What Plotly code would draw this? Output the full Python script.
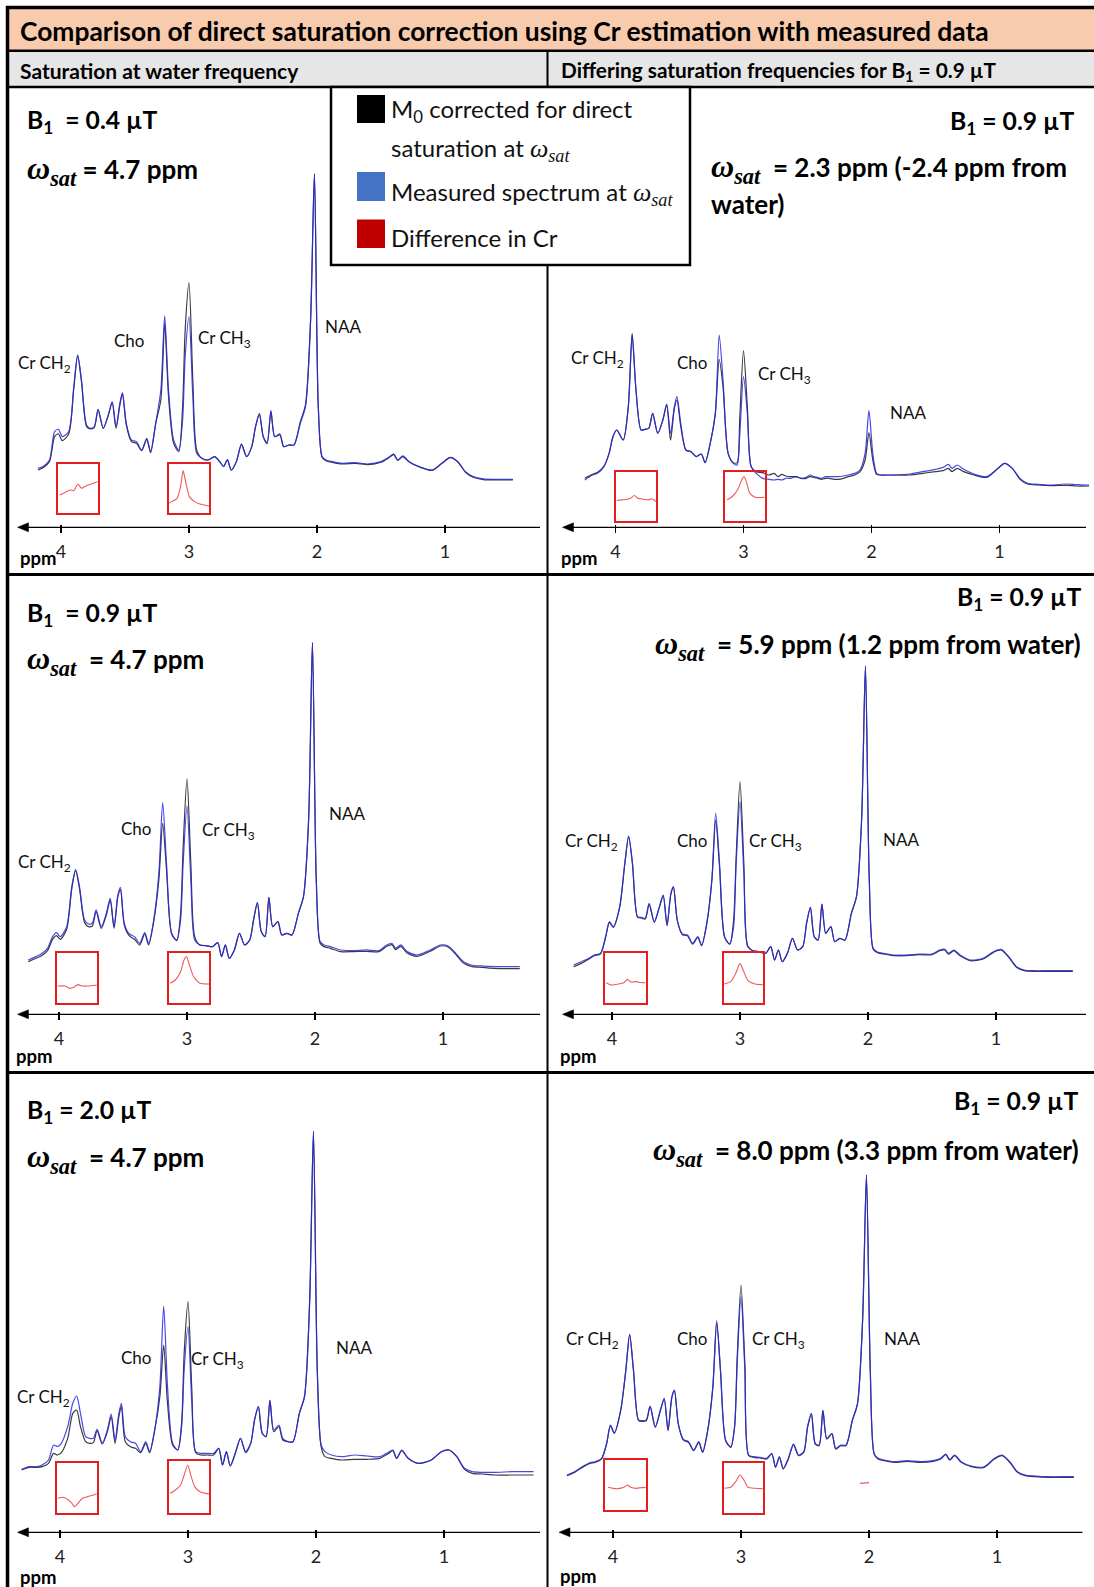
import plotly.graph_objects as go

W, H = 1094, 1587
N = None

# ---------------- DATA ----------------
PPM = [
    4.36, 4.30, 4.24, 4.18, 4.14, 4.09, 4.05, 4.02, 3.99, 3.94,
    3.90, 3.87, 3.84, 3.80, 3.77, 3.74, 3.71, 3.67, 3.63, 3.60,
    3.57, 3.54, 3.52, 3.49, 3.45, 3.41, 3.37, 3.33, 3.30, 3.26,
    3.22, 3.19, 3.16, 3.12, 3.08, 3.05, 3.03, 3.00, 2.97, 2.94,
    2.90, 2.85, 2.80, 2.76, 2.73, 2.70, 2.67, 2.63, 2.59, 2.55,
    2.51, 2.48, 2.45, 2.42, 2.39, 2.36, 2.33, 2.29, 2.26, 2.22,
    2.18, 2.13, 2.09, 2.05, 2.02, 1.99, 1.96, 1.93, 1.88, 1.80,
    1.70, 1.60, 1.50, 1.44, 1.40, 1.37, 1.33, 1.28, 1.20, 1.10,
    1.02, 0.96, 0.90, 0.84, 0.78, 0.70, 0.60, 0.47, 0.40, 0.30,
]

TICK_VALS = [4, 3, 2, 1]
TICK_TEXT = ["4", "3", "2", "1"]

# B1 = 0.4 uT, wsat = 4.7 ppm
TL_BLUE = [
    N, N, N, 33, 38, 58, 143, 150, 128, 143,
    278, 373, 298, 163, 153, 158, 208, 153, 193, 233,
    158, 228, 260, 168, 118, 113, 88, 123, 83, 168,
    268, 490, 268, 118, 88, 178, 368, 488, 248, 78,
    63, 58, 68, 53, 38, 58, 28, 53, 103, 68,
    98, 158, 193, 128, 108, 206, 128, 136, 98, 103,
    103, 168, 218, 478, 916, 218, 68, 58, 53, 48,
    50, 46, 53, 66, 76, 58, 70, 53, 38, 28,
    50, 66, 53, 23, 8, 1, 0, 0, N, N,
]
TL_BLACK = [
    N, N, N, 28, 35, 53, 128, 136, 116, 136,
    273, 370, 293, 158, 151, 156, 210, 153, 193, 230,
    153, 223, 256, 163, 113, 108, 86, 120, 80, 168,
    238, 468, 248, 108, 83, 218, 448, 590, 298, 88,
    63, 58, 68, 53, 39, 58, 28, 53, 106, 68,
    98, 158, 198, 128, 108, 203, 128, 133, 98, 103,
    103, 173, 223, 478, 916, 218, 66, 56, 51, 46,
    48, 44, 51, 64, 74, 57, 68, 52, 37, 27,
    49, 65, 52, 21, 6, -1, -2, -2, N, N,
]
# B1 = 0.9 uT, wsat = 2.3 ppm
TR_BLUE = [
    N, N, 15, 30, 35, 55, 95, 145, 165, 135,
    235, 450, 285, 165, 167, 170, 215, 155, 195, 243,
    155, 235, 265, 185, 105, 100, 85, 93, 67, 125,
    215, 450, 315, 95, 65, 60, 145, 325, 215, 55,
    35, 20, 17, 15, 17, 15, 20, 20, 25, 20,
    23, 30, 25, 23, 20, 25, 25, 25, 25, 27,
    30, 35, 45, 95, 223, 95, 35, 30, 30, 30,
    33, 40, 47, 53, 62, 50, 60, 47, 33, 25,
    47, 65, 50, 20, 5, 2, 0, 3, 1, 0,
]
TR_BLACK = [
    N, N, 20, 32, 38, 57, 95, 145, 165, 135,
    235, 455, 285, 165, 167, 170, 215, 155, 195, 240,
    135, 230, 255, 175, 105, 100, 85, 93, 67, 125,
    215, 377, 295, 95, 67, 67, 195, 403, 235, 55,
    40, 37, 30, 35, 25, 32, 27, 25, 25, 20,
    20, 25, 23, 20, 17, 20, 20, 17, 17, 20,
    25, 30, 40, 75, 157, 75, 32, 30, 30, 30,
    30, 35, 40, 43, 50, 40, 50, 40, 30, 23,
    47, 65, 50, 17, 3, 0, -2, -1, -3, -3,
]
# B1 = 0.9 uT, wsat = 4.7 ppm
ML_BLUE = [
    N, N, 22, 32, 40, 57, 92, 104, 92, 122,
    242, 294, 242, 142, 130, 132, 172, 122, 162, 207,
    122, 217, 240, 132, 100, 92, 72, 104, 72, 142,
    282, 494, 312, 102, 82, 142, 312, 484, 262, 82,
    67, 65, 62, 74, 32, 67, 27, 52, 102, 67,
    82, 142, 194, 107, 92, 210, 122, 137, 97, 102,
    97, 162, 212, 442, 974, 262, 77, 67, 62, 52,
    50, 52, 50, 67, 72, 57, 67, 47, 37, 52,
    67, 64, 42, 17, 7, 4, 2, 2, 2, N,
]
ML_BLACK = [
    N, N, 17, 27, 34, 50, 84, 95, 84, 114,
    237, 290, 237, 134, 122, 124, 167, 117, 157, 202,
    117, 212, 234, 127, 94, 84, 67, 100, 67, 137,
    262, 432, 292, 100, 80, 162, 362, 565, 312, 92,
    67, 65, 62, 74, 32, 67, 27, 52, 102, 67,
    82, 142, 194, 107, 92, 210, 122, 137, 97, 102,
    97, 162, 212, 442, 974, 262, 72, 62, 57, 47,
    47, 48, 47, 63, 68, 53, 63, 43, 33, 48,
    64, 61, 39, 13, 3, 0, -3, -4, -4, N,
]
# B1 = 0.9 uT, wsat = 5.9 ppm
MR_BLUE = [
    N, 17, 27, 37, 47, 52, 102, 147, 132, 192,
    322, 404, 322, 162, 160, 157, 202, 147, 192, 227,
    137, 232, 252, 152, 110, 107, 82, 102, 77, 142,
    272, 472, 322, 102, 80, 132, 322, 507, 292, 72,
    60, 57, 52, 72, 32, 62, 27, 52, 97, 62,
    72, 142, 190, 102, 92, 200, 112, 132, 87, 97,
    92, 172, 222, 452, 914, 272, 67, 57, 52, 47,
    47, 50, 50, 62, 64, 52, 62, 47, 32, 37,
    57, 64, 42, 12, 2, 0, 0, 0, 0, N,
]
MR_BLACK = [
    N, 12, 22, 35, 45, 50, 100, 145, 130, 190,
    320, 402, 320, 160, 158, 155, 200, 145, 190, 225,
    135, 230, 250, 150, 108, 105, 80, 100, 75, 140,
    270, 452, 312, 100, 80, 152, 342, 567, 322, 75,
    60, 57, 52, 72, 32, 62, 27, 52, 97, 62,
    72, 142, 190, 102, 92, 200, 112, 132, 87, 97,
    92, 172, 222, 452, 914, 272, 65, 55, 50, 45,
    45, 48, 48, 60, 62, 50, 60, 45, 30, 35,
    55, 62, 40, 10, 0, -2, -2, -2, -2, N,
]
# B1 = 2.0 uT, wsat = 4.7 ppm
BL_BLUE = [
    N, 17, 25, 25, 30, 45, 90, 85, 95, 145,
    215, 237, 185, 115, 110, 110, 137, 95, 135, 183,
    105, 185, 215, 115, 100, 95, 70, 100, 70, 135,
    265, 507, 265, 95, 75, 145, 315, 445, 215, 70,
    65, 65, 65, 80, 30, 70, 27, 67, 110, 70,
    95, 165, 205, 125, 115, 225, 135, 150, 110, 100,
    100, 185, 235, 515, 1031, 315, 90, 70, 60, 55,
    60, 57, 55, 67, 75, 50, 75, 50, 35, 45,
    70, 75, 55, 20, 10, 8, 8, 10, 10, 10,
]
BL_BLACK = [
    N, 15, 23, 23, 25, 35, 65, 60, 67, 110,
    185, 195, 145, 100, 95, 97, 133, 93, 130, 175,
    95, 175, 205, 100, 85, 80, 67, 95, 67, 135,
    235, 390, 215, 90, 75, 155, 365, 520, 255, 67,
    60, 60, 60, 80, 30, 70, 27, 65, 110, 67,
    95, 165, 205, 125, 115, 223, 130, 145, 105, 100,
    100, 185, 235, 515, 1031, 315, 85, 55, 50, 45,
    47, 47, 50, 63, 73, 50, 73, 50, 35, 45,
    70, 75, 55, 17, 5, 3, 0, 0, 0, 0,
]
# B1 = 0.9 uT, wsat = 8.0 ppm
BR_BLUE = [
    5, 15, 30, 42, 45, 55, 100, 155, 132, 200,
    320, 428, 320, 170, 168, 170, 212, 150, 200, 235,
    140, 240, 260, 160, 112, 105, 80, 105, 75, 140,
    270, 468, 320, 110, 90, 150, 340, 540, 320, 65,
    60, 58, 55, 70, 30, 60, 25, 55, 98, 65,
    75, 150, 190, 100, 95, 200, 115, 130, 85, 95,
    95, 170, 220, 470, 905, 320, 70, 55, 50, 45,
    48, 45, 48, 55, 68, 52, 65, 45, 32, 30,
    55, 65, 45, 15, 5, 2, 0, 0, 0, N,
]
BR_BLACK = [
    3, 13, 28, 40, 43, 53, 98, 153, 130, 198,
    318, 426, 318, 168, 166, 168, 210, 148, 198, 233,
    138, 238, 258, 158, 110, 103, 78, 103, 73, 138,
    268, 462, 315, 108, 88, 150, 355, 575, 340, 63,
    58, 56, 53, 68, 28, 58, 23, 53, 96, 63,
    73, 148, 188, 98, 93, 198, 113, 128, 83, 93,
    93, 168, 218, 468, 905, 318, 68, 53, 48, 43,
    46, 43, 46, 53, 66, 50, 63, 43, 30, 28,
    53, 63, 43, 13, 3, 0, -2, -2, -2, N,
]
BR_STRAY_X = [2.07, 2.00]
BR_STRAY_Y = [-20, -18]

# difference in Cr (insets): ppm and difference values
TL1_X = [4.011, 3.97, 3.928, 3.90, 3.868, 3.84, 3.805, 3.764, 3.715]
TL1_Y = [-19, -12, -4, -6, 14, 1, 8, 14, 21]
TL2_X = [3.156, 3.134, 3.093, 3.066, 3.046, 3.024, 2.997, 2.956, 2.915, 2.844]
TL2_Y = [-44, -39, -29, 6, 54, 16, -24, -39, -46, -52]
TR1_X = [3.990, 3.949, 3.908, 3.881, 3.853, 3.826, 3.785, 3.744, 3.716, 3.684]
TR1_Y = [-12, -10, -8, -5, 3, -5, -8, -10, -7, -15]
TR2_X = [3.128, 3.087, 3.046, 3.013, 2.997, 2.978, 2.951, 2.909, 2.869, 2.836]
TR2_Y = [-10, 0, 20, 50, 60, 45, 10, -2, -3, -2]
ML1_X = [4.009, 3.954, 3.913, 3.885, 3.852, 3.817, 3.776, 3.705]
ML1_Y = [-24, -24, -31, -28, -20, -24, -24, -21]
ML2_X = [3.132, 3.091, 3.05, 3.023, 3.003, 2.981, 2.948, 2.899, 2.825]
ML2_Y = [-16, -6, 19, 54, 64, 39, 4, -16, -18]
MR1_X = [4.045, 4.004, 3.949, 3.908, 3.880, 3.853, 3.812, 3.771, 3.738]
MR1_Y = [-14, -21, -18, -14, -4, -12, -11, -14, -14]
MR2_X = [3.123, 3.073, 3.033, 3.0, 2.970, 2.937, 2.882, 2.822]
MR2_Y = [-18, -11, 14, 44, 19, -8, -18, -20]
BL1_X = [4.017, 3.976, 3.934, 3.907, 3.888, 3.860, 3.825, 3.784, 3.7125]
BL1_Y = [-30, -27, -35, -45, -55, -45, -30, -25, -17]
BL2_X = [3.14, 3.098, 3.058, 3.03, 3.002, 2.975, 2.948, 2.907, 2.833]
BL2_Y = [-19, -9, 6, 36, 66, 31, 1, -14, -21]
BR1_X = [4.039, 3.998, 3.957, 3.916, 3.888, 3.861, 3.820, 3.779, 3.744]
BR1_Y = [-7, -10, -11, -7, 0, -7, -10, -8, -7]
BR2_X = [3.130, 3.081, 3.041, 3.008, 2.977, 2.945, 2.890, 2.830]
BR2_Y = [0, 3, 20, 40, 25, 3, 0, -1]

PEAK_NAMES = ["Cr CH<sub>2</sub>", "Cho", "Cr CH<sub>3</sub>", "NAA"]

TITLE = "Comparison of direct saturation correction using Cr estimation with measured data"
SUB_LEFT = "Saturation at water frequency"
SUB_RIGHT = "Differing saturation frequencies for B<sub>1</sub> = 0.9 µT"

# ---------------- STYLE / LAYOUT ----------------
FONT = "Lato, 'Open Sans', sans-serif"
OMEGA = ("<span style='font-family:Liberation Serif;font-size:32px'><i>ω</i>"
         "<sub><i>sat</i></sub></span>")
OMEGA_LEG = ("<span style='font-family:Liberation Serif;font-size:26px'><i>ω</i>"
             "<sub><i>sat</i></sub></span>")
BLUE_LINE = "rgba(40,40,225,0.85)"
BLACK_LINE = "#3c3c3c"
RED_BOX = "#E41E1E"
RED_LINE = "#EE5A5A"
PX_PER_PPM = 128.0
UPP = 3.0  # intensity units per pixel
NB = "\u00a0"
SMOOTH = 0.75


def X(px):
    return px / W


def Y(py):
    return 1 - py / H


PANELS = [
    dict(blue=TL_BLUE, black=TL_BLACK, x0=12, x1=542, top=90, line=527.3, px3=189.0, base=479.3,
         arrow=(17.5, 540), ppm_at=(18, 558),
         b1="B<sub>1</sub>" + NB + " = 0.4 µT", b1pos=(25, 122, "left"),
         w=[(OMEGA + " = 4.7 ppm", 25, 170, "left")],
         peaks=[(44.5, 364), (129, 340), (224, 339), (343, 326)]),
    dict(blue=TR_BLUE, black=TR_BLACK, x0=552, x1=1093, top=90, line=527.3, px3=743.5, base=485.0,
         arrow=(562.5, 1086), ppm_at=(559, 558),
         b1="B<sub>1</sub> = 0.9 µT", b1pos=(1076, 123, "right"),
         w=[(OMEGA + NB + " = 2.3 ppm (-2.4 ppm from", 709, 169, "left"),
            ("water)", 709, 204, "left")],
         peaks=[(597.8, 359), (692, 362), (784, 375), (907.5, 413)]),
    dict(blue=ML_BLUE, black=ML_BLACK, x0=12, x1=542, top=578, line=1014.3, px3=187.0, base=967.3,
         arrow=(17.5, 540), ppm_at=(14, 1056),
         b1="B<sub>1</sub>" + NB + " = 0.9 µT", b1pos=(25, 614, "left"),
         w=[(OMEGA + NB + " = 4.7 ppm", 25, 660, "left")],
         peaks=[(44.7, 863), (136, 828.3), (228, 831), (347, 813.3)]),
    dict(blue=MR_BLUE, black=MR_BLACK, x0=552, x1=1093, top=578, line=1014.3, px3=740.0, base=970.7,
         arrow=(562.5, 1086), ppm_at=(558, 1056),
         b1="B<sub>1</sub> = 0.9 µT", b1pos=(1083, 598, "right"),
         w=[(OMEGA + NB + " = 5.9 ppm (1.2 ppm from water)", 1083, 645, "right")],
         peaks=[(591.4, 842), (692, 840.7), (775.7, 842), (900.5, 840)]),
    dict(blue=BL_BLUE, black=BL_BLACK, x0=12, x1=542, top=1076, line=1532.3, px3=188.0, base=1475.0,
         arrow=(17.5, 540), ppm_at=(18, 1577),
         b1="B<sub>1</sub> = 2.0 µT", b1pos=(25, 1111, "left"),
         w=[(OMEGA + NB + " = 4.7 ppm", 25, 1158, "left")],
         peaks=[(43.8, 1398), (136, 1357.3), (217, 1360), (354, 1347.7)]),
    dict(blue=BR_BLUE, black=BR_BLACK, x0=552, x1=1093, top=1076, line=1532.3, px3=741.0, base=1476.7,
         arrow=(559, 1082.5), ppm_at=(558, 1576),
         b1="B<sub>1</sub> = 0.9 µT", b1pos=(1080, 1102, "right"),
         w=[(OMEGA + NB + " = 8.0 ppm (3.3 ppm from water)", 1081, 1151, "right")],
         peaks=[(592.8, 1340), (692, 1338.3), (778.4, 1340), (901.8, 1338.3)]),
]

INSETS = [
    dict(panel=0, box=(57.9, 98.2, 464, 513.3), x=TL1_X, y=TL1_Y),
    dict(panel=0, box=(169.1, 209.1, 464, 513.3), x=TL2_X, y=TL2_Y),
    dict(panel=1, box=(616.1, 656, 472, 521), x=TR1_X, y=TR1_Y),
    dict(panel=1, box=(724.6, 764.5, 472, 521), x=TR2_X, y=TR2_Y),
    dict(panel=2, box=(56.8, 96.8, 953.3, 1002.7), x=ML1_X, y=ML1_Y),
    dict(panel=2, box=(169.4, 209.4, 953.3, 1002.7), x=ML2_X, y=ML2_Y),
    dict(panel=3, box=(605.2, 645.5, 953.3, 1002.7), x=MR1_X, y=MR1_Y),
    dict(panel=3, box=(723.6, 762.8, 953.3, 1002.7), x=MR2_X, y=MR2_Y),
    dict(panel=4, box=(56.8, 96.8, 1463.3, 1513.3), x=BL1_X, y=BL1_Y),
    dict(panel=4, box=(169.4, 209.4, 1460.7, 1513.3), x=BL2_X, y=BL2_Y),
    dict(panel=5, box=(605.2, 645.8, 1460, 1510), x=BR1_X, y=BR1_Y),
    dict(panel=5, box=(723.6, 762.8, 1463.3, 1513.3), x=BR2_X, y=BR2_Y),
]

for p in PANELS:
    assert len(p["blue"]) == len(PPM) and len(p["black"]) == len(PPM)


def ppm_at(px, p):
    return 3.0 + (p["px3"] - px) / PX_PER_PPM


def keys(k):
    s = "" if k == 1 else str(k)
    return "xaxis" + s, "yaxis" + s, "x" + s, "y" + s


layout = {}
traces = []
ann = []
shapes = []
k = 0
panel_refs = []

for p in PANELS:
    k += 1
    xa, ya, xr, yr = keys(k)
    panel_refs.append((xr, yr))
    bot = p["line"] - 3.5
    layout[xa] = dict(domain=[X(p["x0"]), X(p["x1"])],
                      range=[ppm_at(p["x0"], p), ppm_at(p["x1"], p)],
                      anchor=yr, showgrid=False, zeroline=False, showline=False,
                      tickmode="array", tickvals=TICK_VALS, ticktext=TICK_TEXT,
                      ticks="outside", ticklen=8, tickwidth=1.3, tickcolor="black",
                      tickfont=dict(family=FONT, size=18, color="#222"),
                      ticklabelstandoff=4, fixedrange=True)
    layout[ya] = dict(domain=[Y(bot), Y(p["top"])],
                      range=[UPP * (p["base"] - bot), UPP * (p["base"] - p["top"])],
                      anchor=xr, visible=False, fixedrange=True)
    traces.append(go.Scatter(x=PPM, y=p["black"], xaxis=xr, yaxis=yr, mode="lines",
                             line=dict(color=BLACK_LINE, width=1.2, shape="spline", smoothing=SMOOTH),
                             hoverinfo="skip"))
    traces.append(go.Scatter(x=PPM, y=p["blue"], xaxis=xr, yaxis=yr, mode="lines",
                             line=dict(color=BLUE_LINE, width=1.2, shape="spline", smoothing=SMOOTH),
                             hoverinfo="skip"))
    # axis arrow (line + head)
    a0, a1 = p["arrow"]
    ly = p["line"]
    shapes.append(dict(type="line", xref="paper", yref="paper", x0=X(a0 + 4), x1=X(a1),
                       y0=Y(ly), y1=Y(ly), line=dict(color="black", width=1.3), layer="above"))
    shapes.append(dict(type="path", xref="paper", yref="paper",
                       path="M {:.6f},{:.6f} L {:.6f},{:.6f} L {:.6f},{:.6f} Z".format(
                           X(a0), Y(ly), X(a0 + 11), Y(ly - 4.5), X(a0 + 11), Y(ly + 4.5)),
                       fillcolor="black", line=dict(color="black", width=0.5), layer="above"))
    ann.append(dict(x=X(p["ppm_at"][0]), y=Y(p["ppm_at"][1]), xref="paper", yref="paper",
                    text="<b>ppm</b>", showarrow=False, xanchor="left", yanchor="middle",
                    font=dict(family=FONT, size=18.5, color="black")))
    # B1 and wsat
    bx, by, anc = p["b1pos"]
    ann.append(dict(x=X(bx), y=Y(by), xref="paper", yref="paper", text="<b>" + p["b1"] + "</b>",
                    showarrow=False, xanchor=anc, yanchor="middle",
                    font=dict(family=FONT, size=24.7, color="black")))
    for txt, tx, ty, tanc in p["w"]:
        ann.append(dict(x=X(tx), y=Y(ty), xref="paper", yref="paper", text="<b>" + txt + "</b>",
                        showarrow=False, xanchor=tanc, yanchor="middle",
                        font=dict(family=FONT, size=26, color="black")))
    for name, (cx, cy) in zip(PEAK_NAMES, p["peaks"]):
        ann.append(dict(x=X(cx), y=Y(cy), xref="paper", yref="paper", text=name,
                        showarrow=False, xanchor="center", yanchor="middle",
                        font=dict(family=FONT, size=17, color="#111")))

# stray red fragment in bottom-right panel
traces.append(go.Scatter(x=BR_STRAY_X, y=BR_STRAY_Y, xaxis=panel_refs[5][0], yaxis=panel_refs[5][1],
                         mode="lines", line=dict(color=RED_LINE, width=1.2), hoverinfo="skip"))

for ins in INSETS:
    k += 1
    xa, ya, xr, yr = keys(k)
    p = PANELS[ins["panel"]]
    bx0, bx1, by0, by1 = ins["box"]
    h = UPP * (by1 - by0)
    frame = dict(showline=True, mirror=True, linecolor=RED_BOX, linewidth=2, ticks="",
                 showticklabels=False, showgrid=False, zeroline=False, fixedrange=True)
    layout[xa] = dict(domain=[X(bx0), X(bx1)], range=[ppm_at(bx0, p), ppm_at(bx1, p)],
                      anchor=yr, **frame)
    layout[ya] = dict(domain=[Y(by1), Y(by0)], range=[-h / 2, h / 2], anchor=xr, **frame)
    traces.append(go.Scatter(x=ins["x"], y=ins["y"], xaxis=xr, yaxis=yr, mode="lines",
                             line=dict(color=RED_LINE, width=1.1, shape="spline", smoothing=0.6),
                             hoverinfo="skip"))

# ---------------- FRAME / HEADERS ----------------
def rect(x0, y0, x1, y1, fill=None, lc=None, lw=0, layer="below"):
    return dict(type="rect", xref="paper", yref="paper", x0=X(x0), x1=X(x1), y0=Y(y0), y1=Y(y1),
                fillcolor=fill if fill else "rgba(0,0,0,0)",
                line=dict(color=lc if lc else "rgba(0,0,0,0)", width=lw), layer=layer)


def hline(x0, x1, y, lw):
    return dict(type="line", xref="paper", yref="paper", x0=X(x0), x1=X(x1), y0=Y(y), y1=Y(y),
                line=dict(color="black", width=lw), layer="below")


def vline(x, y0, y1, lw):
    return dict(type="line", xref="paper", yref="paper", x0=X(x), x1=X(x), y0=Y(y0), y1=Y(y1),
                line=dict(color="black", width=lw), layer="below")


shapes = [
    rect(8, 8, 1100, 50, fill="#F8CBAD"),
    rect(8, 51, 1100, 87, fill="#E7E6E6"),
    hline(8, 1100, 50.8, 2.5),
    hline(8, 1100, 87, 2.5),
    hline(8, 1100, 574.5, 3),
    hline(8, 1100, 1072.5, 3),
    vline(547.5, 51, 1600, 2),
    rect(7.5, 7.5, 1100, 1600, lc="black", lw=3.5),
] + shapes + [
    rect(331, 87, 690, 265, fill="white", lc="black", lw=2.5, layer="above"),
    rect(357, 95, 385, 123, fill="#000000", layer="above"),
    rect(357, 172, 385, 201, fill="#4472C4", layer="above"),
    rect(357, 219.5, 385, 248, fill="#C00000", layer="above"),
]

ann += [
    dict(x=X(18), y=Y(31), xref="paper", yref="paper", text="<b>" + TITLE + "</b>",
         showarrow=False, xanchor="left", yanchor="middle",
         font=dict(family=FONT, size=26.4, color="black")),
    dict(x=X(18), y=Y(70), xref="paper", yref="paper", text="<b>" + SUB_LEFT + "</b>",
         showarrow=False, xanchor="left", yanchor="middle",
         font=dict(family=FONT, size=21, color="black")),
    dict(x=X(559), y=Y(71), xref="paper", yref="paper", text="<b>" + SUB_RIGHT + "</b>",
         showarrow=False, xanchor="left", yanchor="middle",
         font=dict(family=FONT, size=20.8, color="black")),
]
LEGEND_LINES = [
    ("M<sub>0</sub> corrected for direct", 110),
    ("saturation at " + OMEGA_LEG, 149),
    ("Measured spectrum at " + OMEGA_LEG, 193),
    ("Difference in Cr", 238),
]
for txt, ly in LEGEND_LINES:
    ann.append(dict(x=X(389), y=Y(ly), xref="paper", yref="paper", text=txt, showarrow=False,
                    xanchor="left", yanchor="middle",
                    font=dict(family=FONT, size=24, color="#111")))

fig = go.Figure(data=traces)
fig.update_layout(width=W, height=H, margin=dict(l=0, r=0, t=0, b=0, pad=0),
                  paper_bgcolor="white", plot_bgcolor="rgba(0,0,0,0)", showlegend=False,
                  shapes=shapes, annotations=ann, **layout)
fig.write_html("out.html", config={"displayModeBar": False, "staticPlot": True},
               post_script="document.body.style.margin='0';document.body.style.overflow='hidden';")
